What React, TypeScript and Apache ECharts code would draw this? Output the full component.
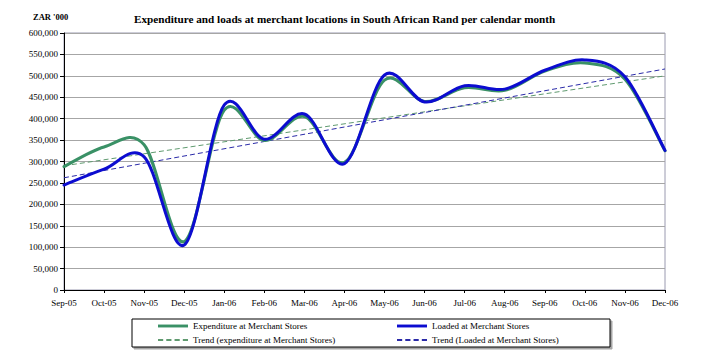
import React, { useEffect, useRef } from "react";
import * as echarts from "echarts";

const months = ["Sep-05", "Oct-05", "Nov-05", "Dec-05", "Jan-06", "Feb-06", "Mar-06", "Apr-06", "May-06", "Jun-06", "Jul-06", "Aug-06", "Sep-06", "Oct-06", "Nov-06", "Dec-06"];
const expenditure = [288000, 334000, 339000, 113000, 420000, 349000, 405000, 298000, 490000, 440000, 472000, 466000, 511000, 530000, 492000, 325000];
const loaded = [245000, 282000, 311000, 105000, 432000, 352000, 411000, 295000, 502000, 439000, 477000, 469000, 513000, 537000, 498000, 326000];
const trendExpenditure = [290000, 500000];
const trendLoaded = [262000, 516000];
const yTicks = { min: 0, max: 600000, interval: 50000 };

const NAME_EXP = "Expenditure at Merchant Stores";
const NAME_LOAD = "Loaded at Merchant Stores";
const NAME_TEXP = "Trend (expenditure at Merchant Stores)";
const NAME_TLOAD = "Trend (Loaded at Merchant Stores)";

const FONT = "'Liberation Serif', 'Times New Roman', serif";
const GREEN = "#3a9166";
const BLUE = "#0c0cd0";
const GREEN_TREND = "#5f9a6f";
const BLUE_TREND = "#2a2aa8";

const SOLID_ICON = "path://M0,0h31v3h-31z";
const DASH_ICON = "path://M0,0h5v2h-5z M8,0h5v2h-5z M16,0h5v2h-5z M24,0h5v2h-5z";

// Excel-style smoothed line (Catmull-Rom Bezier, tension 1/6) through the data points,
// positioned with the chart's own axes via api.coord.
function smoothSeries(name: string, values: number[], color: string, z: number) {
  return {
    name,
    type: "custom",
    data: values.map((v, i) => [i, v]),
    encode: { x: 0, y: 1 },
    itemStyle: { color },
    z,
    renderItem: (params: any, api: any) => {
      if (params.dataIndex !== 0) return null;
      const pts = values.map((v, i) => api.coord([i, v]));
      let d = `M${pts[0][0]},${pts[0][1]}`;
      for (let i = 0; i < pts.length - 1; i++) {
        const p0 = pts[i - 1] || pts[i];
        const p1 = pts[i];
        const p2 = pts[i + 1];
        const p3 = pts[i + 2] || pts[i + 1];
        const c1x = p1[0] + (p2[0] - p0[0]) / 6;
        const c1y = p1[1] + (p2[1] - p0[1]) / 6;
        const c2x = p2[0] - (p3[0] - p1[0]) / 6;
        const c2y = p2[1] - (p3[1] - p1[1]) / 6;
        d += ` C${c1x},${c1y} ${c2x},${c2y} ${p2[0]},${p2[1]}`;
      }
      return {
        type: "path",
        shape: { pathData: d },
        style: { fill: "none", stroke: color, lineWidth: 3, lineJoin: "round", lineCap: "round" },
      };
    },
  };
}

export default function App() {
  const ref = useRef<HTMLDivElement>(null);
  useEffect(() => {
    const chart = echarts.init(ref.current!, null, { renderer: "svg" });
    const first = months[0];
    const last = months[months.length - 1];
    const legendText = { fontFamily: FONT, fontSize: 9, color: "#000", lineHeight: 12 };
    chart.setOption({
      animation: false,
      backgroundColor: "#ffffff",
      textStyle: { fontFamily: FONT },
      title: {
        text: "Expenditure and loads at merchant locations in South African Rand per calendar month",
        left: 134,
        top: 13,
        padding: 0,
        textStyle: { fontFamily: FONT, fontSize: 11.2, fontWeight: "bold", color: "#000" },
      },
      graphic: [
        {
          type: "text",
          left: 33,
          top: 12,
          style: { text: "ZAR '000", font: `bold 8.5px ${FONT}`, fill: "#000" },
        },
        {
          type: "rect",
          shape: { x: 132, y: 319, width: 478, height: 28 },
          style: { fill: "#fff", stroke: "#000", lineWidth: 1, shadowColor: "rgba(0,0,0,0.35)", shadowOffsetX: 2, shadowOffsetY: 2, shadowBlur: 1 },
          z: 0,
        },
      ],
      legend: [
        {
          left: 158,
          top: 320,
          padding: 0,
          orient: "vertical",
          itemWidth: 30,
          itemHeight: 3,
          itemGap: 2,
          textStyle: legendText,
          data: [
            { name: NAME_EXP, icon: SOLID_ICON },
            { name: NAME_TEXP, icon: DASH_ICON },
          ],
          z: 10,
        },
        {
          left: 397,
          top: 320,
          padding: 0,
          orient: "vertical",
          itemWidth: 30,
          itemHeight: 3,
          itemGap: 2,
          textStyle: legendText,
          data: [
            { name: NAME_LOAD, icon: SOLID_ICON },
            { name: NAME_TLOAD, icon: DASH_ICON },
          ],
          z: 10,
        },
      ],
      grid: {
        left: 64,
        right: 47,
        top: 33,
        bottom: 73,
        show: true,
        borderColor: "#9a9ab0",
        borderWidth: 1,
      },
      xAxis: {
        type: "category",
        data: months,
        boundaryGap: false,
        axisLine: { lineStyle: { color: "#000", width: 1 } },
        axisTick: { show: true, length: 3, lineStyle: { color: "#000" } },
        axisLabel: { interval: 0, fontFamily: FONT, fontSize: 9, color: "#000", margin: 8 },
        splitLine: { show: false },
      },
      yAxis: {
        type: "value",
        min: yTicks.min,
        max: yTicks.max,
        interval: yTicks.interval,
        axisLine: { show: true, lineStyle: { color: "#000", width: 1 } },
        axisTick: { show: true, length: 4, lineStyle: { color: "#000" } },
        axisLabel: {
          fontFamily: FONT,
          fontSize: 9,
          color: "#000",
          margin: 6,
          formatter: (v: number) => v.toLocaleString("en-US"),
        },
        splitLine: { show: true, lineStyle: { color: "#a6a6a6", width: 1 } },
      },
      series: [
        {
          name: NAME_TEXP,
          type: "line",
          data: [[first, trendExpenditure[0]], [last, trendExpenditure[1]]],
          symbol: "none",
          lineStyle: { color: GREEN_TREND, width: 1, type: [5, 3] },
          itemStyle: { color: GREEN_TREND },
          z: 2,
        },
        {
          name: NAME_TLOAD,
          type: "line",
          data: [[first, trendLoaded[0]], [last, trendLoaded[1]]],
          symbol: "none",
          lineStyle: { color: BLUE_TREND, width: 1, type: [5, 3] },
          itemStyle: { color: BLUE_TREND },
          z: 2,
        },
        smoothSeries(NAME_EXP, expenditure, GREEN, 3),
        smoothSeries(NAME_LOAD, loaded, BLUE, 4),
      ],
    });
    return () => chart.dispose();
  }, []);
  return <div ref={ref} style={{ position: "fixed", left: 0, top: 0, width: 712, height: 363 }} />;
}
